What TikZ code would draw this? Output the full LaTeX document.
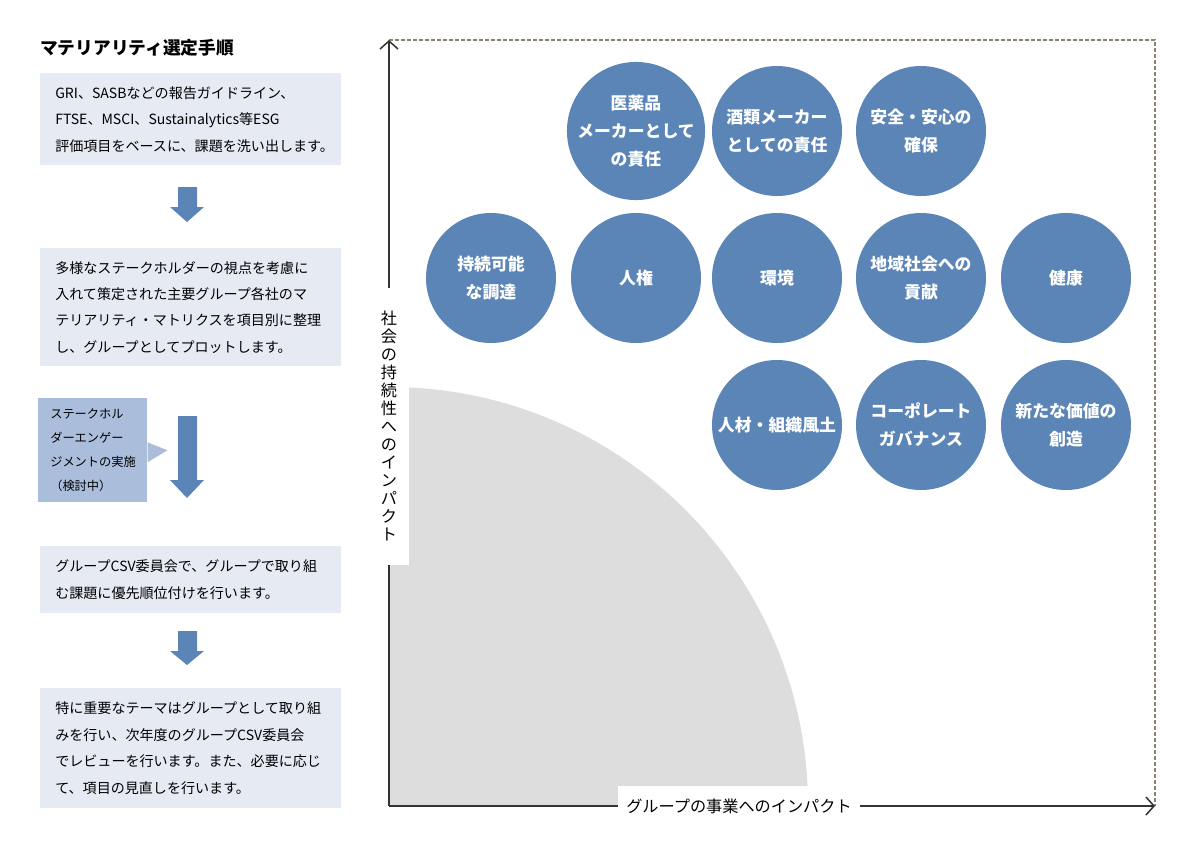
\documentclass[tikz,border=0pt]{standalone}
\usepackage{fontspec}
\setmainfont{Noto Sans CJK JP}
\usetikzlibrary{arrows.meta,positioning}
\definecolor{stepfill}{RGB}{230,234,243}
\definecolor{callfill}{RGB}{170,189,218}
\definecolor{themeblue}{RGB}{91,133,182}
\definecolor{framegray}{RGB}{140,130,112}
\definecolor{zonegray}{RGB}{221,221,221}

\begin{document}
\begin{tikzpicture}[
		x=0.25mm, y=-0.25mm,
		stepbox/.style={fill=stepfill, anchor=north west, align=left, text width=67.75mm,
				inner xsep=3.75mm, inner ysep=0pt, font=\fontsize{10}{18.8}\selectfont},
		callout/.style={fill=callfill, anchor=north west, align=left, text width=21.25mm,
				inner xsep=3mm, inner ysep=0pt, minimum height=26mm,
				font=\fontsize{8.7}{17.2}\selectfont},
		theme/.style={circle, fill=themeblue, text=white, minimum size=32.5mm, inner sep=0pt,
				align=center, font=\bfseries\fontsize{12}{20}\selectfont},
		downarr/.style={fill=themeblue},
		axis/.style={line width=0.38mm, draw=black!80, -{Straight Barb[length=2mm,width=4.5mm]}},
		axlabel/.style={fill=white, inner sep=0pt, align=center, font=\fontsize{11.5}{12.8}\selectfont}
		]
		\useasboundingbox (0,0) rectangle (1200,853);
		% procedure on the left
		\node[anchor=west, inner sep=0pt, font=\bfseries\fontsize{12.6}{14}\selectfont] (title) at (40,48) {マテリアリティ選定手順};
		\node[stepbox, minimum height=23mm] (collect) at (40,73) {GRI、SASBなどの報告ガイドライン、\\FTSE、MSCI、Sustainalytics等ESG\\評価項目をベースに、課題を洗い出します。};
		\node[stepbox, minimum height=29.5mm] (plot) at (40,248) {多様なステークホルダーの視点を考慮に\\入れて策定された主要グループ各社のマ\\テリアリティ・マトリクスを項目別に整理\\し、グループとしてプロットします。};
		\node[stepbox, minimum height=16.75mm] (rank) at (40,546) {グループCSV委員会で、グループで取り組\\む課題に優先順位付けを行います。};
		\node[stepbox, minimum height=30mm] (review) at (40,688) {特に重要なテーマはグループとして取り組\\みを行い、次年度のグループCSV委員会\\でレビューを行います。また、必要に応じ\\て、項目の見直しを行います。};
		\node[callout] (engage) at (38,398) {ステークホル\\ダーエンゲー\\ジメントの実施\\（検討中）};
		\fill[callfill] ([yshift=2mm]engage.east) -- ([xshift=5mm]engage.east) -- ([yshift=-3mm]engage.east) -- cycle;
		\foreach \ya/\yb/\yc in {187/207/222, 416/480/498, 631/651/665}
		\fill[downarr] (178,\ya) -- (197,\ya) -- (197,\yb) -- (204,\yb) -- (187,\yc) -- (170,\yb) -- (178,\yb) -- cycle;
		% matrix
		\coordinate (origin) at (389,806);
		\coordinate (ytop) at (389,40);
		\coordinate (xend) at (1155,806);
		\coordinate (corner) at (1155,40);
		\fill[zonegray] (origin) -- ++(419,0) arc[start angle=0, end angle=90, radius=104.75mm] -- cycle;
		\draw[framegray, line width=0.35mm, dash pattern=on 1mm off 0.5mm] (ytop) -- (corner) -- (xend);
		\draw[axis] (origin) -- (ytop);
		\draw[axis] (origin) -- (xend);
		\node[axlabel, minimum width=9.75mm, minimum height=69.25mm] (ylabel) at (389,426)
		{社\\会\\の\\持\\続\\性\\へ\\の\\イ\\ン\\パ\\ク\\ト};
		\node[axlabel, minimum width=60.5mm, minimum height=10mm] (xlabel) at (739,806) {グループの事業へのインパクト};
		\node[theme] (pharma) at (636,131) {医薬品\\メーカーとして\\の責任};
		\node[theme] (liquor) at (777,131) {酒類メーカー\\としての責任};
		\node[theme] (safety) at (921,131) {安全・安心の\\確保};
		\node[theme] (procure) at (491,278) {持続可能\\な調達};
		\node[theme] (rights) at (636,278) {人権};
		\node[theme] (environ) at (777,278) {環境};
		\node[theme] (community) at (921,278) {地域社会への\\貢献};
		\node[theme] (health) at (1066,278) {健康};
		\node[theme] (talent) at (777,425) {人材・組織風土};
		\node[theme] (governance) at (921,425) {コーポレート\\ガバナンス};
		\node[theme] (value) at (1066,425) {新たな価値の\\創造};
	\end{tikzpicture}
\end{document}
